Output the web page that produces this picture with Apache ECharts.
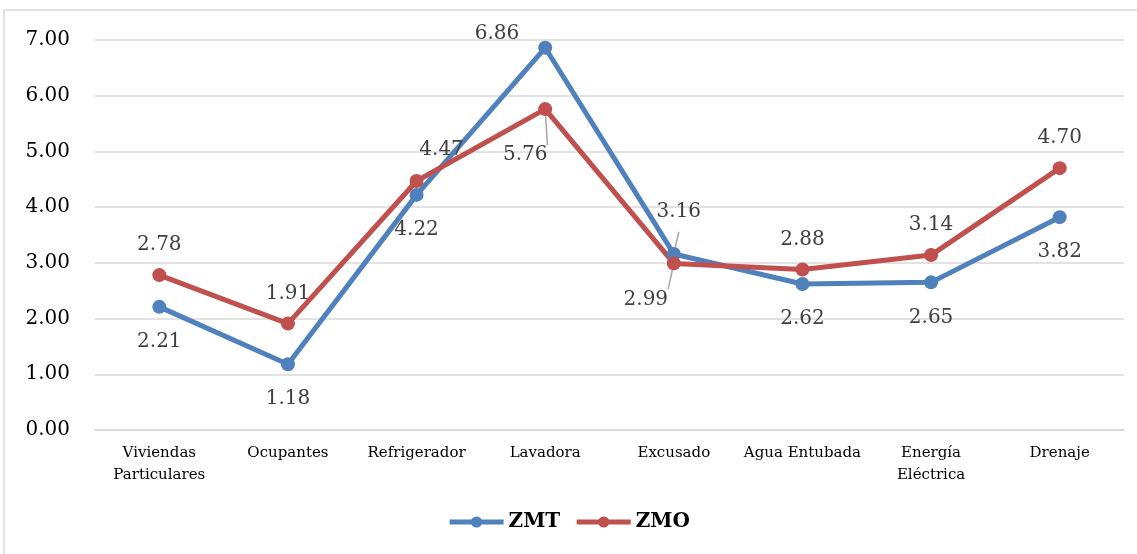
<!DOCTYPE html>
<html>
<head>
<meta charset="utf-8">
<script src="https://cdn.jsdelivr.net/npm/echarts@6/dist/echarts.min.js"></script>
<style>
  html, body {margin: 0; padding: 0; background: #fff;}
  #main {width: 1137px; height: 554px;}
</style>
</head>
<body>
<div id="main"></div>
<script>
    var categories = ['Viviendas\nParticulares', 'Ocupantes', 'Refrigerador', 'Lavadora', 'Excusado', 'Agua Entubada', 'Energía\nEléctrica', 'Drenaje'];
    var zmt = [2.21, 1.18, 4.22, 6.86, 3.16, 2.62, 2.65, 3.82];
    var zmo = [2.78, 1.91, 4.47, 5.76, 2.99, 2.88, 3.14, 4.70];

    // where each label sits relative to its point
    var zmtLabels = [
        {position: 'bottom', distance: 18},
        {position: 'bottom', distance: 18},
        {position: 'bottom', distance: 18},
        {position: 'left', offset: [-14, -14], line: true},
        {position: 'top', offset: [5, -20], line: true},
        {position: 'bottom', distance: 18},
        {position: 'bottom', distance: 18},
        {position: 'bottom', distance: 18}
    ];
    var zmoLabels = [
        {position: 'top', distance: 13},
        {position: 'top', distance: 13},
        {position: 'top', offset: [25, -9]},
        {position: 'bottom', offset: [-20, 24], line: true},
        {position: 'bottom', offset: [-28, 14], line: true},
        {position: 'top', distance: 13},
        {position: 'top', distance: 13},
        {position: 'top', distance: 13}
    ];

    function buildData(values, labels) {
        return values.map(function (v, i) {
            var l = labels[i];
            var label = {position: l.position};
            if (l.distance) label.distance = l.distance;
            if (l.offset) label.offset = l.offset;
            return {
                value: v,
                label: label,
                labelLine: {show: !!l.line, lineStyle: {color: '#a6a6a6', width: 1.5}}
            };
        });
    }

    var chart = echarts.init(document.getElementById('main'));
    var labelStyle = {
        show: true, color: '#404040', fontSize: 20,
        fontFamily: 'DejaVu Serif', formatter: function (p) { return p.value.toFixed(2); }
    };
    chart.setOption({
        animation: false,
        graphic: [{
            type: 'rect', shape: {x: 4, y: 10, width: 1150, height: 560},
            style: {fill: 'none', stroke: '#d9d9d9', lineWidth: 1.5}, silent: true
        }],
        grid: {left: 95, right: 13, top: 40, bottom: 124},
        legend: {
            bottom: 17, left: 'center', itemWidth: 54, itemHeight: 14, itemGap: 14,
            lineStyle: {width: 5},
            textStyle: {fontFamily: 'DejaVu Serif', fontWeight: 'bold', fontSize: 20, color: '#000'}
        },
        xAxis: {
            type: 'category', data: categories, boundaryGap: true,
            axisLine: {lineStyle: {color: '#d9d9d9', width: 1.5}},
            axisTick: {show: false},
            axisLabel: {color: '#000', fontSize: 15, fontFamily: 'DejaVu Serif', margin: 12, lineHeight: 22, interval: 0}
        },
        yAxis: {
            type: 'value', min: 0, max: 7, interval: 1,
            axisLine: {show: false}, axisTick: {show: false},
            splitLine: {lineStyle: {color: '#d9d9d9', width: 1.5}},
            axisLabel: {
                color: '#000', fontSize: 20, fontFamily: 'DejaVu Serif', margin: 25,
                formatter: function (v) { return v.toFixed(2); }
            }
        },
        series: [
            {
                name: 'ZMT', type: 'line', data: buildData(zmt, zmtLabels),
                symbol: 'circle', symbolSize: 14, color: '#4f81bd',
                lineStyle: {width: 5, color: '#4f81bd'},
                label: labelStyle
            },
            {
                name: 'ZMO', type: 'line', data: buildData(zmo, zmoLabels),
                symbol: 'circle', symbolSize: 14, color: '#c0504d',
                lineStyle: {width: 5, color: '#c0504d'},
                label: labelStyle
            }
        ]
    });
</script>
</body>
</html>
